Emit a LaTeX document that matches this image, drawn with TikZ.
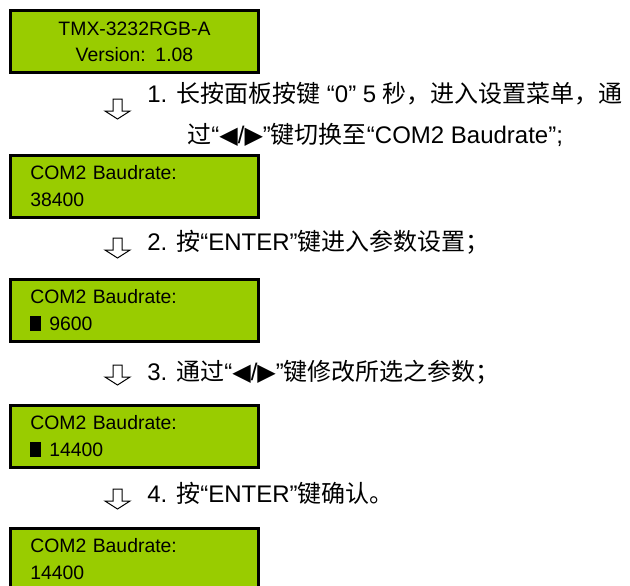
\documentclass[tikz,border=0pt]{standalone}
\usepackage{fontspec}
\setmainfont{Liberation Sans}
\newfontfamily\cjk{Noto Sans CJK SC}
\newfontfamily\sym{DejaVu Sans}
\usetikzlibrary{positioning}
\definecolor{lcdgreen}{RGB}{153,204,0}

\tikzset{
  lcd/.style = {draw=black, line width=1.5pt, fill=lcdgreen, anchor=north west,
                minimum width=124.25pt, minimum height=31.25pt,
                font=\fontsize{9.7}{11.5}\selectfont},
  lcdleft/.style = {lcd, align=left, text width=104.25pt, inner xsep=10pt},
  lcdmid/.style = {lcd, align=center, text width=104.25pt, inner xsep=10pt},
  steptext/.style = {anchor=base west, inner sep=0pt,
                     font=\fontsize{12}{14}\selectfont},
  hollowarrow/.pic = {
    \draw [line width=0.5pt, line join=miter]
      (-4.5,0) -- (4.5,0) -- (4.5,12) -- (12.5,12) -- (0,20)
      -- (-12.5,12) -- (-4.5,12) -- cycle;
  }
}
\newcommand{\cursor}{\rule{5.5pt}{7.5pt}\hspace{4pt}}

\begin{document}
\begin{tikzpicture}[%
        x = 0.5pt, y = -0.5pt
    ]
      \useasboundingbox (0,0) rectangle (630,585);
      \clip (0,0) rectangle (630,585);
      % lcd screens
      \node [lcdmid]  (lcdA) at (8.75,8.75)   {TMX-3232RGB-A\\[1.5pt]Version: 1.08};
      \node [lcdleft] (lcdB) at (8.75,153.75) {COM2 Baudrate:\\[2pt]38400};
      \node [lcdleft] (lcdC) at (8.75,277.75) {COM2 Baudrate:\\[2pt]\cursor 9600};
      \node [lcdleft] (lcdD) at (8.75,403.75) {COM2 Baudrate:\\[2pt]\cursor 14400};
      \node [lcdleft] (lcdE) at (8.75,526.75) {COM2 Baudrate:\\[2pt]14400};
      % step arrows
      \pic at (117.5,99)  {hollowarrow};
      \pic at (117.5,238) {hollowarrow};
      \pic at (117.5,365) {hollowarrow};
      \pic at (117.5,489) {hollowarrow};
      % step texts
      \node [steptext] (stepA) at (147,102)
        {1. {\cjk 长按面板按键} “0” 5 {\cjk 秒，进入设置菜单，通}};
      \node [steptext] (stepAb) at (187,143)
        {{\cjk 过}“{\sym ◀}/{\sym ▶}”{\cjk 键切换至}“COM2 Baudrate”;};
      \node [steptext] (stepB) at (147,250)
        {2. {\cjk 按}“ENTER”{\cjk 键进入参数设置；}};
      \node [steptext] (stepC) at (147,380)
        {3. {\cjk 通过}“{\sym ◀}/{\sym ▶}”{\cjk 键修改所选之参数；}};
      \node [steptext] (stepD) at (147,502)
        {4. {\cjk 按}“ENTER”{\cjk 键确认。}};
    \end{tikzpicture}
\end{document}
